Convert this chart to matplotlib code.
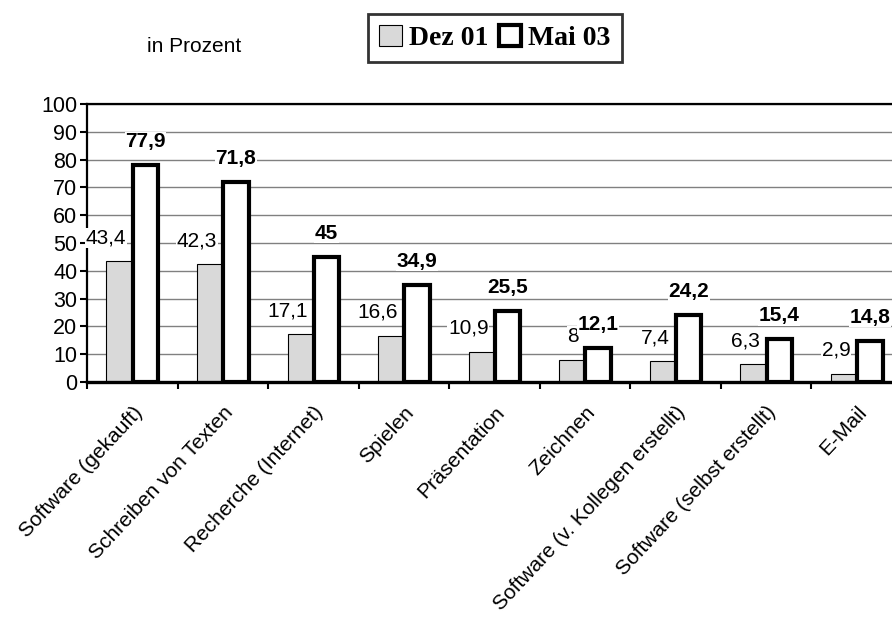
import matplotlib.pyplot as plt
import numpy as np
from matplotlib.patches import Patch

plt.rcParams['font.family'] = ['Liberation Sans', 'DejaVu Sans']

categories = ['Software (gekauft)', 'Schreiben von Texten', 'Recherche (Internet)',
              'Spielen', 'Präsentation', 'Zeichnen', 'Software (v. Kollegen erstellt)',
              'Software (selbst erstellt)', 'E-Mail']
dez01 = [43.4, 42.3, 17.1, 16.6, 10.9, 8, 7.4, 6.3, 2.9]
mai03 = [77.9, 71.8, 45, 34.9, 25.5, 12.1, 24.2, 15.4, 14.8]
dez_labels = ['43,4', '42,3', '17,1', '16,6', '10,9', '8', '7,4', '6,3', '2,9']
mai_labels = ['77,9', '71,8', '45', '34,9', '25,5', '12,1', '24,2', '15,4', '14,8']

fig = plt.figure(figsize=(8.92, 6.19), dpi=100)
ax = fig.add_axes([0.0975, 0.383, 0.9137, 0.449])

x = np.arange(len(categories))
w = 0.28
off = 0.145

ax.bar(x - off, dez01, w, color='#d9d9d9', edgecolor='black', linewidth=0.8, zorder=2)
ax.bar(x + off, mai03, w, color='white', edgecolor='black', linewidth=3, zorder=2)

lbl_box = dict(facecolor='white', edgecolor='none', pad=0.5)
for i in range(len(categories)):
    ax.text(x[i] - off + 0.08, dez01[i] + 8.5, dez_labels[i], ha='right', va='center',
            fontsize=15, bbox=lbl_box, zorder=4)
    ax.text(x[i] + off, mai03[i] + 8.5, mai_labels[i], ha='center', va='center',
            fontsize=15, fontweight='bold', bbox=lbl_box, zorder=4)

ax.set_xlim(-0.5, len(categories) - 0.5)
ax.set_ylim(0, 100)
ax.set_yticks(range(0, 101, 10))
ax.yaxis.grid(True, color='#808080', linewidth=1, zorder=0)
ax.set_axisbelow(True)

ax.set_xticks(x)
ax.set_xticklabels(categories, rotation=47, ha='right', rotation_mode='anchor', fontsize=15)
ax.set_xticks(np.arange(-0.5, len(categories), 1), minor=True)
ax.tick_params(axis='x', which='major', length=0, pad=15)
ax.tick_params(axis='x', which='minor', length=5, width=1.5, direction='out')
ax.tick_params(axis='y', length=5, width=1.5, direction='out', labelsize=15.5, pad=2)

for s in ['left', 'top']:
    ax.spines[s].set_linewidth(1.6)
ax.spines['bottom'].set_linewidth(2.4)
ax.spines['right'].set_visible(False)

fig.text(0.165, 0.925, 'in Prozent', fontsize=15, ha='left', va='center')

handles = [Patch(facecolor='#d9d9d9', edgecolor='black', linewidth=0.8),
           Patch(facecolor='white', edgecolor='black', linewidth=3)]
leg = fig.legend(handles, ['Dez 01', 'Mai 03'], loc='center', bbox_to_anchor=(0.555, 0.939),
                 ncol=2, frameon=True, fancybox=False, edgecolor='black',
                 prop={'family': 'Liberation Serif', 'weight': 'bold', 'size': 20},
                 handlelength=0.8, handleheight=0.8, handletextpad=0.25, columnspacing=0.4,
                 borderpad=0.4, borderaxespad=0)
leg.get_frame().set_linewidth(2)

fig.savefig('out.png', dpi=100)
